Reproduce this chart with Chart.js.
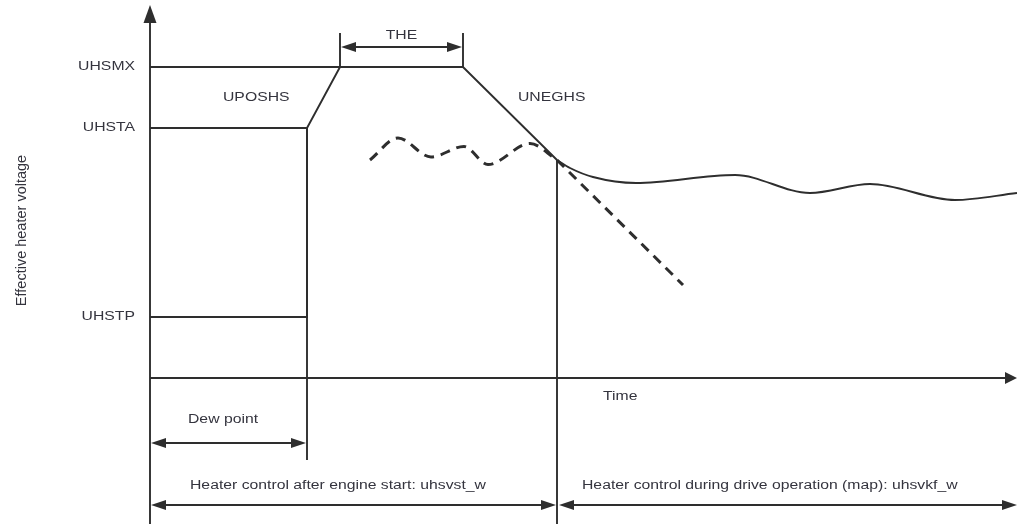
<!DOCTYPE html>
<html lang="en">
<head>
  <meta charset="UTF-8">
  <title>Effective heater voltage</title>
  <script src="https://cdn.jsdelivr.net/npm/chart.js"></script>
  <style>
    body { margin: 0; background: #fff; }
    .chart-container { position: relative; width: 1017px; height: 524px; }
  </style>
</head>

<body>
  <div class="chart-container">
    <canvas id="heaterChart"></canvas>
  </div>

  <script>
    // Levels (voltage units of the diagram)
    const levelNames = ['UHSMX', 'UHSTA', 'UHSTP'];
    const levelValues = [12.44, 10.0, 2.44];

    // Heater control after engine start (step, ramp up, hold THE, ramp down)
    const startTime = [0, 15.7, 15.7, 19.0, 31.3, 40.7];
    const startVoltage = [2.44, 2.44, 10.0, 12.44, 12.44, 8.72];

    // Heater control during drive operation (map)
    const driveTime = [40.7, 42.0, 44.3, 48.6, 58.5, 66.0, 72.0, 80.5, 86.7];
    const driveVoltage = [8.72, 8.4, 8.04, 7.8, 8.12, 7.4, 7.76, 7.12, 7.4];

    // Dashed curves
    const waveTime = [22.0, 24.8, 28.1, 31.4, 33.8, 38.0, 40.7];
    const waveVoltage = [8.72, 9.6, 8.84, 9.26, 8.54, 9.38, 8.72];
    const fallTime = [40.7, 53.3];
    const fallVoltage = [8.72, 3.72];

    const ink = '#2e2e2e';
    const textInk = '#34343e';

    function toPoints(xs, ys) {
      return xs.map((x, i) => ({ x: x, y: ys[i] }));
    }

    function line(data, opts) {
      return Object.assign({
        data: data,
        borderColor: ink,
        borderWidth: 1.9,
        pointRadius: 0,
        tension: 0,
        clip: false
      }, opts || {});
    }

    // reference lines from the axis to where the trace reaches each level
    const uhsmxLine = toPoints([0, startTime[3]], [levelValues[0], levelValues[0]]);
    const uhstaLine = toPoints([0, startTime[1]], [levelValues[1], levelValues[1]]);

    function arrowHead(ctx, x, y, dir, len, w) {
      ctx.beginPath();
      if (dir === 'left' || dir === 'right') {
        const s = dir === 'right' ? -1 : 1;
        ctx.moveTo(x, y);
        ctx.lineTo(x + s * len, y - w / 2);
        ctx.lineTo(x + s * len, y + w / 2);
      } else {
        const s = dir === 'down' ? -1 : 1;
        ctx.moveTo(x, y);
        ctx.lineTo(x - w / 2, y + s * len);
        ctx.lineTo(x + w / 2, y + s * len);
      }
      ctx.closePath();
      ctx.fill();
    }

    function seg(ctx, x1, y1, x2, y2) {
      ctx.beginPath();
      ctx.moveTo(x1, y1);
      ctx.lineTo(x2, y2);
      ctx.stroke();
    }

    function label(ctx, str, x, y, align) {
      ctx.save();
      ctx.translate(x, y);
      ctx.scale(1.26, 1);
      ctx.textAlign = align || 'left';
      ctx.fillText(str, 0, 0);
      ctx.restore();
    }

    const diagramPlugin = {
      id: 'diagram',
      afterDatasetsDraw(chart) {
        const ctx = chart.ctx;
        const xs = chart.scales.x;
        const ys = chart.scales.y;
        const X = v => xs.getPixelForValue(v);
        const Y = v => ys.getPixelForValue(v);
        const bottom = chart.height;

        ctx.save();
        ctx.strokeStyle = ink;
        ctx.fillStyle = ink;
        ctx.lineWidth = 1.9;

        // axes
        seg(ctx, X(0), bottom, X(0), Y(14.92) + 10);
        arrowHead(ctx, X(0), Y(14.92), 'up', 18, 13);
        seg(ctx, X(0), Y(0), chart.width - 8, Y(0));
        arrowHead(ctx, chart.width, Y(0), 'right', 12, 12);

        // end of dew point phase and start of drive phase
        seg(ctx, X(startTime[1]), Y(levelValues[1]), X(startTime[1]), Y(-3.28));
        seg(ctx, X(driveTime[0]), Y(driveVoltage[0]), X(driveTime[0]), bottom);

        // THE
        seg(ctx, X(startTime[3]), Y(13.8), X(startTime[3]), Y(levelValues[0]));
        seg(ctx, X(startTime[4]), Y(13.8), X(startTime[4]), Y(levelValues[0]));
        seg(ctx, X(startTime[3]) + 8, Y(13.24), X(startTime[4]) - 8, Y(13.24));
        arrowHead(ctx, X(startTime[3]) + 1, Y(13.24), 'left', 15, 10);
        arrowHead(ctx, X(startTime[4]) - 1, Y(13.24), 'right', 15, 10);

        // dew point
        seg(ctx, X(0) + 8, Y(-2.6), X(startTime[1]) - 8, Y(-2.6));
        arrowHead(ctx, X(0) + 1, Y(-2.6), 'left', 15, 10);
        arrowHead(ctx, X(startTime[1]) - 1, Y(-2.6), 'right', 15, 10);

        // engine start / drive operation
        seg(ctx, X(0) + 8, Y(-5.08), X(driveTime[0]) - 8, Y(-5.08));
        arrowHead(ctx, X(0) + 1, Y(-5.08), 'left', 15, 10);
        arrowHead(ctx, X(driveTime[0]) - 1, Y(-5.08), 'right', 15, 10);
        seg(ctx, X(driveTime[0]) + 8, Y(-5.08), chart.width - 8, Y(-5.08));
        arrowHead(ctx, X(driveTime[0]) + 2, Y(-5.08), 'left', 15, 10);
        arrowHead(ctx, chart.width, Y(-5.08), 'right', 15, 10);

        // texts
        ctx.fillStyle = textInk;
        ctx.font = '12.5px "Liberation Sans", Arial, sans-serif';
        ctx.textBaseline = 'middle';
        levelNames.forEach((name, i) => label(ctx, name, X(-1.5), Y(levelValues[i]), 'right'));
        label(ctx, 'UPOSHS', X(7.3), Y(11.2));
        label(ctx, 'UNEGHS', X(36.8), Y(11.2));
        label(ctx, 'THE', (X(startTime[3]) + X(startTime[4])) / 2, Y(13.68), 'center');
        label(ctx, 'Time', X(45.3), Y(-0.76));
        label(ctx, 'Dew point', X(3.8), Y(-1.68));
        label(ctx, 'Heater control after engine start: uhsvst_w', X(4.0), Y(-4.32));
        label(ctx, 'Heater control during drive operation (map): uhsvkf_w', X(43.2), Y(-4.32));

        ctx.save();
        ctx.font = '14.5px "Liberation Sans", Arial, sans-serif';
        ctx.translate(X(-12.8), Y(5.9));
        ctx.rotate(-Math.PI / 2);
        ctx.textAlign = 'center';
        ctx.fillText('Effective heater voltage', 0, 0);
        ctx.restore();

        ctx.restore();
      }
    };

    const ctx = document.getElementById('heaterChart').getContext('2d');
    const chart = new Chart(ctx, {
      type: 'line',
      data: {
        datasets: [
          line(uhsmxLine),
          line(uhstaLine),
          line(toPoints(startTime, startVoltage)),
          line(toPoints(driveTime, driveVoltage), { cubicInterpolationMode: 'monotone' }),
          line(toPoints(waveTime, waveVoltage), {
            cubicInterpolationMode: 'monotone',
            borderWidth: 3,
            borderDash: [10, 7]
          }),
          line(toPoints(fallTime, fallVoltage), {
            borderWidth: 3,
            borderDash: [10, 7]
          })
        ]
      },
      options: {
        responsive: true,
        maintainAspectRatio: false,
        animation: false,
        layout: { padding: { left: 150, right: 7, top: 5, bottom: 146 } },
        scales: {
          x: { type: 'linear', min: 0, max: 86, display: false },
          y: { type: 'linear', min: 0, max: 14.92, display: false }
        },
        plugins: {
          legend: { display: false },
          tooltip: { enabled: false }
        }
      },
      plugins: [diagramPlugin]
    });
  </script>
</body>
</html>
